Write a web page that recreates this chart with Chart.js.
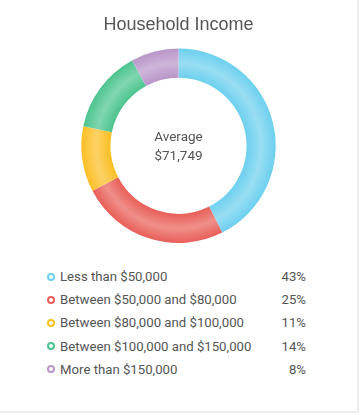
<!DOCTYPE html>
<html lang="en">
<head>
    <meta charset="UTF-8">
    <title>Household Income</title>
    <script src="https://cdn.jsdelivr.net/npm/chart.js"></script>
    <style>
        html, body { margin: 0; padding: 0; background: #fff; }
        .card {
            width: 359px; height: 413px; box-sizing: border-box;
            border-right: 2px solid #ececec; border-bottom: 2px solid #ececec;
            position: relative;
        }
        .chart-box { width: 357px; height: 250px; position: relative; }
        .legend { position: absolute; left: 44px; top: 265px; width: 262px;
            font-family: Roboto, sans-serif; font-size: 13.2px; color: #555; }
        .legend .row { display: flex; align-items: center; height: 23.2px; }
        .legend .dot { width: 4px; height: 4px; border-radius: 50%; border: 2px solid; margin: 0 5px 0 3px; }
        .legend .name { flex: 1; }
        .legend .pct { text-align: right; }
    </style>
</head>
<body>
    <div class="card">
        <div class="chart-box"><canvas id="incomeChart"></canvas></div>
        <div class="legend" id="legend"></div>
    </div>

    <script>
        const labels = ["Less than $50,000", "Between $50,000 and $80,000", "Between $80,000 and $100,000", "Between $100,000 and $150,000", "More than $150,000"];
        const shares = [43, 25, 11, 14, 8];
        const colors = ["#6dd0ee", "#e85f58", "#fbbf24", "#4cc48e", "#b995c8"];
        const averageText = ["Average", "$71,749"];

        function lighten(hex, amt) {
            let n = parseInt(hex.slice(1), 16);
            let r = (n >> 16) & 255, g = (n >> 8) & 255, b = n & 255;
            r = Math.round(r + (255 - r) * amt);
            g = Math.round(g + (255 - g) * amt);
            b = Math.round(b + (255 - b) * amt);
            return `rgb(${r},${g},${b})`;
        }

        function ringGradient(ctx) {
            let chart = ctx.chart;
            let area = chart.chartArea;
            let base = colors[ctx.dataIndex];
            if (!area) return base;
            let cx = (area.left + area.right) / 2;
            let cy = (area.top + area.bottom) / 2;
            let outer = Math.min(area.right - area.left, area.bottom - area.top) / 2;
            let inner = outer * 0.7;
            let g = chart.ctx.createRadialGradient(cx, cy, inner, cx, cy, outer);
            g.addColorStop(0, base);
            g.addColorStop(0.5, lighten(base, 0.3));
            g.addColorStop(1, base);
            return g;
        }

        const centerText = {
            id: 'centerText',
            afterDraw(chart) {
                let { ctx, chartArea } = chart;
                let cx = (chartArea.left + chartArea.right) / 2;
                let cy = (chartArea.top + chartArea.bottom) / 2;
                ctx.save();
                ctx.font = '13.5px Roboto';
                ctx.fillStyle = '#555';
                ctx.textAlign = 'center';
                ctx.textBaseline = 'middle';
                ctx.fillText(averageText[0], cx, cy - 8.5);
                ctx.fillText(averageText[1], cx, cy + 10.5);
                ctx.restore();
            }
        };

        new Chart(document.getElementById('incomeChart'), {
            type: 'doughnut',
            data: {
                labels: labels,
                datasets: [{
                    data: shares,
                    backgroundColor: ringGradient,
                    borderWidth: 0
                }]
            },
            options: {
                responsive: true,
                maintainAspectRatio: false,
                animation: false,
                cutout: '70%',
                layout: { padding: { top: 4, bottom: 7 } },
                plugins: {
                    legend: { display: false },
                    tooltip: { enabled: false },
                    title: {
                        display: true,
                        text: 'Household Income',
                        color: '#555',
                        font: { family: '"Liberation Sans", Arial, sans-serif', size: 18, weight: 'normal' },
                        padding: { top: 10, bottom: 13 }
                    }
                }
            },
            plugins: [centerText]
        });

        let legend = document.getElementById('legend');
        labels.forEach((name, i) => {
            let row = document.createElement('div');
            row.className = 'row';
            row.innerHTML = `<span class="dot" style="border-color:${colors[i]}"></span><span class="name">${name}</span><span class="pct">${shares[i]}%</span>`;
            legend.appendChild(row);
        });
    </script>
</body>
</html>
